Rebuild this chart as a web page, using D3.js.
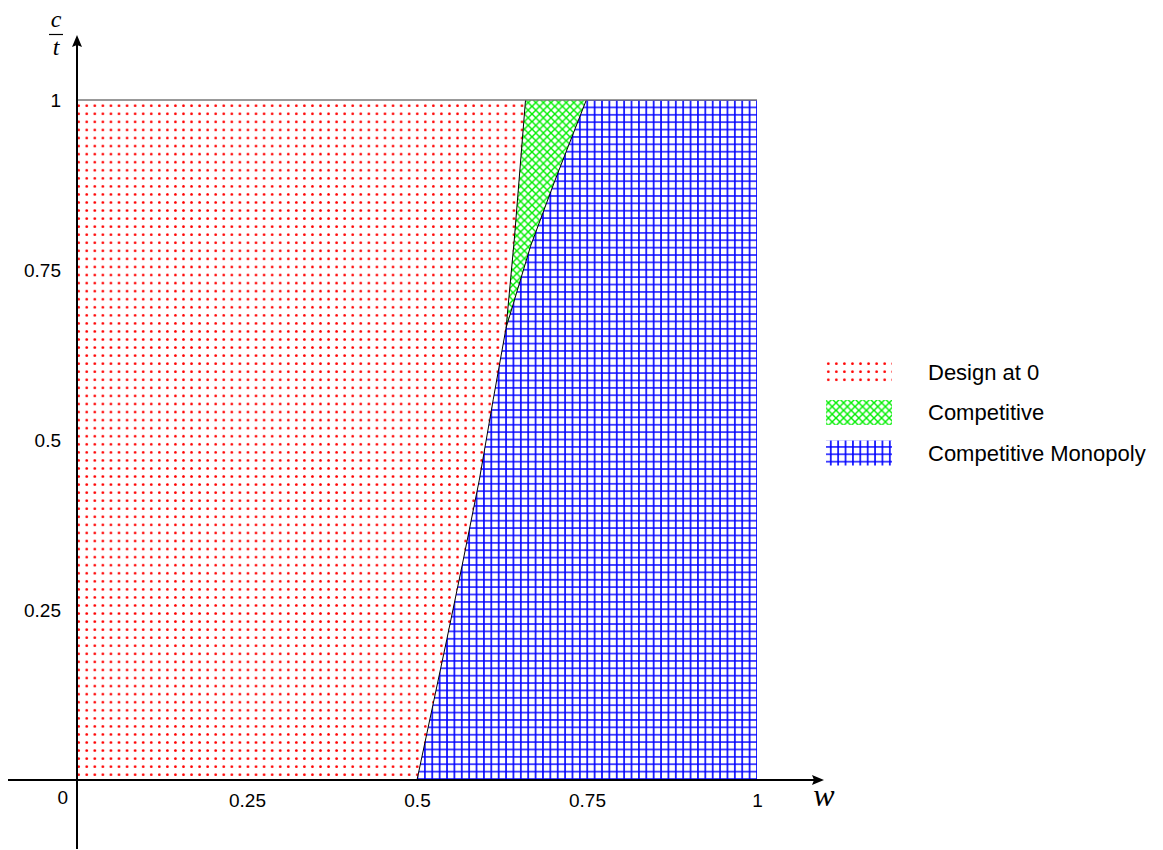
<!DOCTYPE html>
<html>
<head>
<meta charset="utf-8">
<script src="https://cdn.jsdelivr.net/npm/d3@7"></script>
<style>
  html, body { margin: 0; padding: 0; background: #fff; }
  svg { display: block; }
</style>
</head>
<body>
<svg id="chart" width="1163" height="850"></svg>
<script>
// ---------- data ----------
const xTicks = [0.25, 0.5, 0.75, 1];
const yTicks = [0.25, 0.5, 0.75, 1];
const xTickLabels = ["0.25", "0.5", "0.75", "1"];
const yTickLabels = ["0.25", "0.5", "0.75", "1"];
// boundary between "Design at 0" and "Competitive Monopoly" (w, c/t)
const boundaryRedBlue = [[0.5, 0], [0.5437, 0.206], [0.568, 0.3235], [0.5916, 0.441], [0.612, 0.559], [0.631, 0.665]];
// boundary between "Design at 0" and "Competitive"
const boundaryRedGreen = [[0.631, 0.665], [0.643, 0.794], [0.6596, 1]];
// boundary between "Competitive" and "Competitive Monopoly"
const boundaryGreenBlue = [[0.631, 0.665], [0.667, 0.785], [0.703, 0.882], [0.749, 1]];
const legendLabels = ["Design at 0", "Competitive", "Competitive Monopoly"];
const legendPatterns = ["dots", "crosshatch", "grid"];

// ---------- setup ----------
const SANS = "'Liberation Sans', Arial, sans-serif";
const SERIF = "'Liberation Serif', 'DejaVu Serif', serif";
const svg = d3.select("#chart");
const x = d3.scaleLinear().domain([0, 1]).range([77, 757]);
const y = d3.scaleLinear().domain([0, 1]).range([780, 100]);

const defs = svg.append("defs");
// dots pattern
const pd = defs.append("pattern").attr("id", "dots").attr("patternUnits", "userSpaceOnUse")
  .attr("width", 8.06).attr("height", 8.06).attr("x", 78.7 - 4.03).attr("y", 774.7 - 4.03);
pd.append("circle").attr("cx", 4.03).attr("cy", 4.03).attr("r", 1.35).attr("fill", "#ff0000");
// crosshatch pattern
const cw = 7.6;
const pc = defs.append("pattern").attr("id", "crosshatch").attr("patternUnits", "userSpaceOnUse")
  .attr("width", cw).attr("height", cw).attr("x", 0).attr("y", 0);
pc.append("path").attr("d", `M-1,-1 L${cw + 1},${cw + 1} M-1,${cw + 1} L${cw + 1},-1`)
  .attr("stroke", "#00ee00").attr("stroke-width", 1.4).attr("fill", "none");
// grid pattern
const pg = defs.append("pattern").attr("id", "grid").attr("patternUnits", "userSpaceOnUse")
  .attr("width", 7.38).attr("height", 7.38).attr("x", 417.5 - 3.69).attr("y", 779 - 3.69);
pg.append("path").attr("d", "M3.69,0 V7.38 M0,3.69 H7.38")
  .attr("stroke", "#0000ff").attr("stroke-width", 1.6).attr("fill", "none");

// ---------- regions ----------
const line = d3.line().x(d => x(d[0])).y(d => y(d[1]));
const redPoly = [[0, 0]].concat(boundaryRedBlue, boundaryRedGreen.slice(1), [[0, 1]]);
const greenPoly = boundaryRedGreen.concat(boundaryGreenBlue.slice().reverse().slice(0, -1));
const bluePoly = boundaryRedBlue.concat(boundaryGreenBlue.slice(1), [[1, 1], [1, 0]]);

svg.append("path").attr("d", line(redPoly) + "Z").attr("fill", "url(#dots)");
svg.append("path").attr("d", line(greenPoly) + "Z").attr("fill", "url(#crosshatch)");
svg.append("path").attr("d", line(bluePoly) + "Z").attr("fill", "url(#grid)");

// boundary lines
[boundaryRedBlue, boundaryRedGreen, boundaryGreenBlue].forEach(b => {
  svg.append("path").attr("d", line(b)).attr("fill", "none").attr("stroke", "#000").attr("stroke-width", 1);
});
// top edge
svg.append("line").attr("x1", x(0)).attr("x2", x(1)).attr("y1", y(1)).attr("y2", y(1))
  .attr("stroke", "#777").attr("stroke-width", 1.5);

// ---------- axes ----------
const xAxis = svg.append("g").attr("transform", `translate(0,${y(0)})`)
  .call(d3.axisBottom(x).tickValues(xTicks).tickSize(0).tickPadding(0)
    .tickFormat((d, i) => xTickLabels[i]));
xAxis.select(".domain").remove();
xAxis.selectAll("text").style("font-size", "19px").style("font-family", SANS).attr("fill", "#000")
  .attr("dy", null).attr("y", 27);

const yAxis = svg.append("g").attr("transform", `translate(${x(0)},0)`)
  .call(d3.axisLeft(y).tickValues(yTicks).tickSize(0).tickPadding(0)
    .tickFormat((d, i) => yTickLabels[i]));
yAxis.select(".domain").remove();
yAxis.selectAll("text").style("font-size", "19px").style("font-family", SANS).attr("fill", "#000")
  .attr("x", -16).attr("dy", "0.35em");

// origin label
svg.append("text").attr("x", 68).attr("y", 804).attr("text-anchor", "end")
  .style("font-size", "19px").style("font-family", SANS).text("0");

// axis lines with arrows
svg.append("line").attr("x1", 8).attr("x2", 815).attr("y1", y(0)).attr("y2", y(0))
  .attr("stroke", "#000").attr("stroke-width", 2);
svg.append("path").attr("d", `M824,${y(0)} L812,${y(0) - 5} L814,${y(0)} L812,${y(0) + 5} Z`).attr("fill", "#000");
svg.append("line").attr("x1", x(0)).attr("x2", x(0)).attr("y1", 849).attr("y2", 44)
  .attr("stroke", "#000").attr("stroke-width", 2);
svg.append("path").attr("d", `M${x(0)},35 L${x(0) - 5},47 L${x(0)},45 L${x(0) + 5},47 Z`).attr("fill", "#000");

// axis titles
svg.append("text").attr("x", 824).attr("y", 806).attr("text-anchor", "middle")
  .style("font-family", SERIF).style("font-style", "italic").style("font-size", "32px").text("w");
const yl = svg.append("g").attr("transform", "translate(56,0)");
yl.append("text").attr("x", 0).attr("y", 27).attr("text-anchor", "middle")
  .style("font-family", SERIF).style("font-style", "italic").style("font-size", "24px").text("c");
yl.append("line").attr("x1", -7).attr("x2", 7).attr("y1", 34.5).attr("y2", 34.5).attr("stroke", "#000").attr("stroke-width", 1.2);
yl.append("text").attr("x", 0).attr("y", 55).attr("text-anchor", "middle")
  .style("font-family", SERIF).style("font-style", "italic").style("font-size", "24px").text("t");

// ---------- legend ----------
const legend = svg.append("g");
legendLabels.forEach((lab, i) => {
  const cy = 372 + i * 40.5;
  legend.append("rect").attr("x", 826).attr("y", cy - 12.5).attr("width", 66).attr("height", 25)
    .attr("fill", `url(#${legendPatterns[i]})`);
  legend.append("text").attr("x", 928).attr("y", cy).attr("dy", "0.35em")
    .style("font-size", "22px").style("font-family", SANS).text(lab);
});
</script>
</body>
</html>
